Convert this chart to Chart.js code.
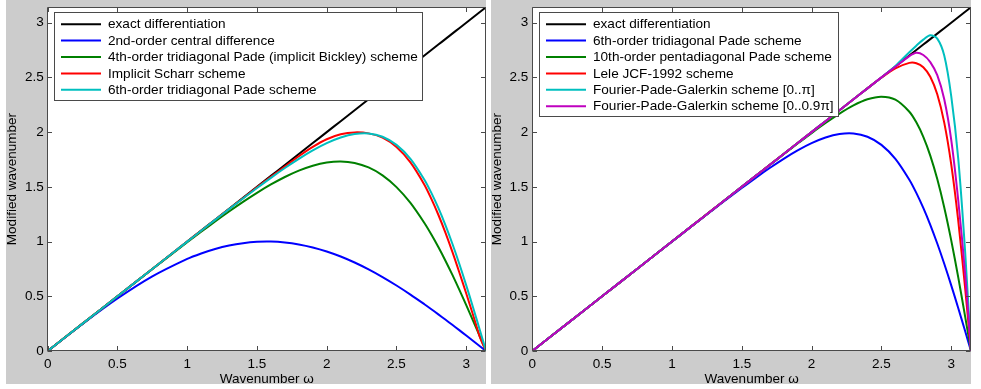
<!DOCTYPE html>
<html><head><meta charset="utf-8">
<script src="https://cdn.jsdelivr.net/npm/chart.js@4.4.1/dist/chart.umd.min.js"></script>
<style>
html,body{margin:0;padding:0;background:#fff;width:981px;height:389px;overflow:hidden}
.panel{position:absolute;top:0;width:480px;height:384px;background:#cccccc}
#p1{left:6px}
#p2{left:491px}
canvas{display:block}
</style></head><body>
<div class="panel" id="p1"><canvas id="c1" width="480" height="384"></canvas></div>
<div class="panel" id="p2"><canvas id="c2" width="480" height="384"></canvas></div>
<script>
// Wavenumber grid (x values)
const omega = [0, 0.25, 0.5, 0.75, 1.0, 1.1, 1.2, 1.3, 1.4, 1.5, 1.6, 1.7, 1.8, 1.9, 2.0, 2.1, 2.2, 2.3, 2.4, 2.5, 2.6, 2.7, 2.75, 2.8, 2.85, 2.9, 2.95, 3.0, 3.05, 3.1, 3.1416];
const xTickValues = [0, 0.5, 1, 1.5, 2, 2.5, 3];
const xTickLabels = ['0', '0.5', '1', '1.5', '2', '2.5', '3'];
const yTickValues = [0, 0.5, 1, 1.5, 2, 2.5, 3];
const yTickLabels = ['0', '0.5', '1', '1.5', '2', '2.5', '3'];

// Modified wavenumber series
const exactDiff = [0, 0.25, 0.5, 0.75, 1.0, 1.1, 1.2, 1.3, 1.4, 1.5, 1.6, 1.7, 1.8, 1.9, 2.0, 2.1, 2.2, 2.3, 2.4, 2.5, 2.6, 2.7, 2.75, 2.8, 2.85, 2.9, 2.95, 3.0, 3.05, 3.1, 3.1416];
const central2  = [0, 0.2474, 0.4794, 0.6816, 0.8415, 0.8912, 0.9320, 0.9636, 0.9855, 0.9975, 0.9996, 0.9917, 0.9738, 0.9463, 0.9093, 0.8632, 0.8085, 0.7457, 0.6755, 0.5985, 0.5155, 0.4274, 0.3817, 0.3350, 0.2875, 0.2392, 0.1904, 0.1411, 0.0915, 0.0416, 0];
const pade4     = [0, 0.2500, 0.4998, 0.7486, 0.9938, 1.0897, 1.1836, 1.2748, 1.3624, 1.4451, 1.5216, 1.5899, 1.6480, 1.6931, 1.7223, 1.7320, 1.7184, 1.6773, 1.6049, 1.4976, 1.3529, 1.1699, 1.0644, 0.9501, 0.8275, 0.6975, 0.5610, 0.4192, 0.2733, 0.1246, 0];
const scharr    = [0, 0.2500, 0.5000, 0.7500, 1.0000, 1.0995, 1.1990, 1.2980, 1.3965, 1.4950, 1.5910, 1.6860, 1.7800, 1.8650, 1.9350, 1.9800, 1.9975, 1.9885, 1.9490, 1.8640, 1.7240, 1.5200, 1.3900, 1.2450, 1.0840, 0.9080, 0.7200, 0.5250, 0.3250, 0.1200, 0];
const pade6     = [0, 0.2500, 0.5000, 0.7499, 0.9995, 1.0989, 1.1980, 1.2963, 1.3936, 1.4893, 1.5825, 1.6720, 1.7563, 1.8331, 1.8994, 1.9510, 1.9827, 1.9877, 1.9579, 1.8838, 1.7559, 1.5653, 1.4448, 1.3070, 1.1525, 0.9820, 0.7972, 0.6000, 0.3932, 0.1799, 0];
const penta10   = [0, 0.2500, 0.5000, 0.7500, 1.0000, 1.1000, 1.2000, 1.3000, 1.3999, 1.4998, 1.5995, 1.6989, 1.7977, 1.8955, 1.9913, 2.0835, 2.1694, 2.2443, 2.3002, 2.3243, 2.2962, 2.1865, 2.0894, 1.9573, 1.7856, 1.5709, 1.3121, 1.0113, 0.6745, 0.3119, 0];
const lele1992  = [0, 0.2500, 0.5000, 0.7500, 1.0003, 1.1004, 1.2006, 1.3008, 1.4010, 1.5010, 1.6010, 1.7009, 1.8006, 1.9003, 2.0000, 2.0997, 2.1997, 2.3000, 2.4000, 2.4967, 2.5819, 2.6328, 2.6299, 2.5931, 2.5057, 2.3455, 2.0865, 1.7056, 1.1938, 0.5691, 0];
const fpgPi     = [0, 0.25, 0.5, 0.75, 1.0, 1.1, 1.2, 1.3, 1.4, 1.5, 1.6, 1.7, 1.8, 1.9, 2.0, 2.1, 2.2, 2.3, 2.4, 2.5, 2.605, 2.73, 2.79, 2.845, 2.885, 2.855, 2.70, 2.33, 1.76, 0.90, 0];
const fpg09Pi   = [0, 0.25, 0.5, 0.75, 1.0, 1.1, 1.2, 1.3, 1.4, 1.5, 1.6, 1.7, 1.8, 1.9, 2.0, 2.1, 2.2, 2.3, 2.4, 2.5, 2.597, 2.695, 2.726, 2.705, 2.64, 2.52, 2.30, 1.93, 1.38, 0.70, 0];

const leftLabels  = ['exact differentiation', '2nd-order central difference', '4th-order tridiagonal Pade (implicit Bickley) scheme', 'Implicit Scharr scheme', '6th-order tridiagonal Pade scheme'];
const rightLabels = ['exact differentiation', '6th-order tridiagonal Pade scheme', '10th-order pentadiagonal Pade scheme', 'Lele JCF-1992 scheme', 'Fourier-Pade-Galerkin scheme [0..\u03C0]', 'Fourier-Pade-Galerkin scheme [0..0.9\u03C0]'];
const leftColors  = ['#000000', '#0000ff', '#008000', '#ff0000', '#00bfbf'];
const rightColors = ['#000000', '#0000ff', '#008000', '#ff0000', '#00bfbf', '#bf00bf'];

const FONT = '"Liberation Sans", Arial, Helvetica, sans-serif';
const LEG_SIZE = 13.6;

function pts(arr){ return omega.map((x,i)=>({x:x, y:arr[i]})); }
function makeDatasets(labels, colors, series){
  const n = labels.length;
  return labels.map((lab,i)=>({
    label: lab, data: pts(series[i]), borderColor: colors[i], backgroundColor: colors[i],
    borderWidth: 2, pointRadius: 0, fill: false, tension: 0.3, order: n-1-i
  }));
}

const framePlugin = {
  id: 'frame',
  beforeDraw(chart){
    const {ctx, chartArea:a} = chart;
    ctx.save(); ctx.fillStyle = '#ffffff';
    ctx.fillRect(a.left, a.top, a.right-a.left, a.bottom-a.top);
    ctx.restore();
  },
  afterDraw(chart){
    const {ctx, chartArea:a, scales:{x, y}} = chart;
    ctx.save();
    ctx.strokeStyle = '#4a4a4a'; ctx.lineWidth = 1;
    const L = Math.floor(a.left)+0.5, R = Math.ceil(a.right)-0.5, T = Math.floor(a.top)+0.5, B = Math.ceil(a.bottom)-0.5;
    ctx.beginPath();
    ctx.rect(L, T, R-L, B-T);
    xTickValues.forEach(v=>{
      const px = Math.round(x.getPixelForValue(v))+0.5;
      ctx.moveTo(px, B); ctx.lineTo(px, B-4.5);
      ctx.moveTo(px, T); ctx.lineTo(px, T+4.5);
    });
    yTickValues.forEach(v=>{
      const py = Math.round(y.getPixelForValue(v))+0.5;
      ctx.moveTo(L, py); ctx.lineTo(L+4.5, py);
      ctx.moveTo(R, py); ctx.lineTo(R-4.5, py);
    });
    ctx.stroke();
    // legend box
    const ds = chart.data.datasets;
    ctx.font = LEG_SIZE + 'px ' + FONT;
    let maxW = 0;
    ds.forEach(d=>{ maxW = Math.max(maxW, ctx.measureText(d.label).width); });
    const bx = Math.floor(a.left) + 7 + 0.5, by = Math.floor(a.top) + 5 + 0.5;
    const textX = bx + 53.5;
    const bw = Math.round(textX + maxW + 5 - bx);
    const bh = Math.round(11.7 + (ds.length-1)*16.4 + 10.5);
    ctx.fillStyle = '#ffffff';
    ctx.fillRect(bx, by, bw, bh);
    ctx.strokeStyle = '#4a4a4a';
    ctx.strokeRect(bx, by, bw, bh);
    ctx.textBaseline = 'middle'; ctx.textAlign = 'left';
    ds.forEach((d,i)=>{
      const cy = by + 11.7 + i*16.4;
      ctx.strokeStyle = d.borderColor; ctx.lineWidth = 2;
      ctx.beginPath(); ctx.moveTo(bx+6.5, cy); ctx.lineTo(bx+46.5, cy); ctx.stroke();
      ctx.fillStyle = '#000';
      ctx.fillText(d.label, textX, cy+0.5);
    });
    ctx.restore();
  }
};

function makeChart(id, labels, colors, series, yWidth){
  return new Chart(document.getElementById(id), {
    type: 'line',
    data: { datasets: makeDatasets(labels, colors, series) },
    options: {
      responsive: false, maintainAspectRatio: false, animation: false, devicePixelRatio: 1,
      layout: { padding: { top: 7.2, right: 0, left: 0, bottom: 0 } },
      plugins: { legend: { display: false }, tooltip: { enabled: false } },
      scales: {
        x: {
          type: 'linear', min: 0, max: Math.PI,
          afterBuildTicks: s => { s.ticks = xTickValues.map(v=>({value:v})); },
          afterFit: s => { s.height = 33; s.paddingLeft = 0; s.paddingRight = 0; s.paddingTop = 0; s.paddingBottom = 0; },
          grid: { display: false, drawTicks: false }, border: { display: false },
          ticks: { padding: 5, color: '#000', autoSkip: false, maxRotation: 0,
                   font: { family: FONT, size: 13.5 },
                   callback: (v) => xTickLabels[xTickValues.indexOf(v)] },
          title: { display: true, text: 'Wavenumber \u03C9', color: '#000',
                   font: { family: FONT, size: 13.5, lineHeight: 0.66 }, padding: { top: 0, bottom: 0 } }
        },
        y: {
          type: 'linear', min: 0, max: Math.PI,
          afterBuildTicks: s => { s.ticks = yTickValues.map(v=>({value:v})); },
          afterFit: s => { s.width = yWidth; s.paddingTop = 0; s.paddingBottom = 0; s.paddingLeft = 0; s.paddingRight = 0; },
          grid: { display: false, drawTicks: false }, border: { display: false },
          ticks: { padding: 4, color: '#000', autoSkip: false,
                   font: { family: FONT, size: 13.5 },
                   callback: (v) => yTickLabels[yTickValues.indexOf(v)] },
          title: { display: true, text: 'Modified wavenumber', color: '#000',
                   font: { family: FONT, size: 13.5, lineHeight: 0.9 }, padding: { top: 0, bottom: 0 } }
        }
      }
    },
    plugins: [framePlugin]
  });
}

makeChart('c1', leftLabels, leftColors, [exactDiff, central2, pade4, scharr, pade6], 41.7);
makeChart('c2', rightLabels, rightColors, [exactDiff, pade6, penta10, lele1992, fpgPi, fpg09Pi], 41.3);
</script>
</body></html>
